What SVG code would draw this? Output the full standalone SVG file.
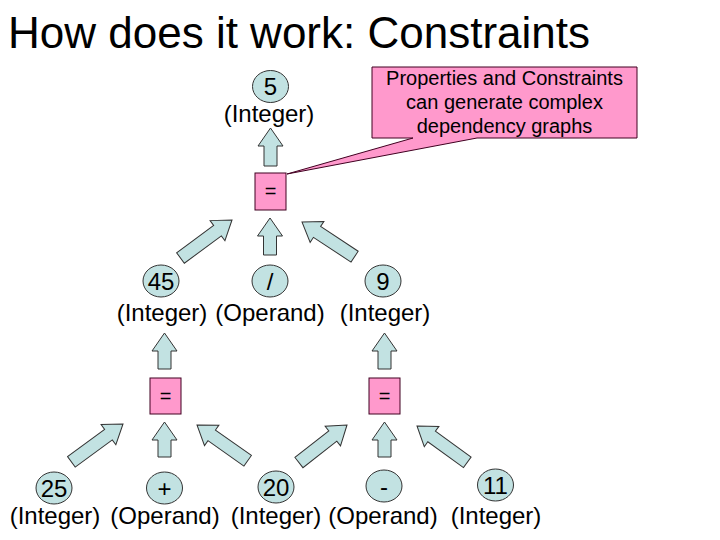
<svg xmlns="http://www.w3.org/2000/svg" width="720" height="540" viewBox="0 0 720 540">
<style>
text{font-family:"Liberation Sans",Arial,sans-serif;fill:#000}
.t{font-size:44px}
.l{font-size:24px;text-anchor:middle}
.c{font-size:20px;text-anchor:middle}
.circ{fill:#C2E2E2;stroke:#333;stroke-width:1}
.box{fill:#FF99CC;stroke:#400020;stroke-width:1}
.arr{fill:#C2E2E2;stroke:#333;stroke-width:1}
</style>
<rect width="720" height="540" fill="#fff"/>
<text class="t" x="8" y="48">How does it work: Constraints</text>

<g id="connectors">
<!-- up arrows: tip at origin pointing up -->
<polygon class="arr" transform="translate(270.5,128)" points="0,0 12.5,18 6.5,18 6.5,38 -6.5,38 -6.5,18 -12.5,18"/>
<polygon class="arr" transform="translate(270,218)" points="0,0 12.5,18 6.5,18 6.5,37 -6.5,37 -6.5,18 -12.5,18"/>
<polygon class="arr" transform="translate(232,220) rotate(53.6)" points="0,0 12.5,18 6.5,18 6.5,64 -6.5,64 -6.5,18 -12.5,18"/>
<polygon class="arr" transform="translate(302,222) rotate(-56.6)" points="0,0 12.5,18 6.5,18 6.5,63 -6.5,63 -6.5,18 -12.5,18"/>
<polygon class="arr" transform="translate(164.5,333)" points="0,0 12.5,18 6.5,18 6.5,36 -6.5,36 -6.5,18 -12.5,18"/>
<polygon class="arr" transform="translate(384.5,333)" points="0,0 12.5,18 6.5,18 6.5,36 -6.5,36 -6.5,18 -12.5,18"/>
<polygon class="arr" transform="translate(164.5,422)" points="0,0 12.5,18 6.5,18 6.5,35 -6.5,35 -6.5,18 -12.5,18"/>
<polygon class="arr" transform="translate(384.5,422)" points="0,0 12.5,18 6.5,18 6.5,35 -6.5,35 -6.5,18 -12.5,18"/>
<polygon class="arr" transform="translate(123,424) rotate(53.8)" points="0,0 12.5,18 6.5,18 6.5,64 -6.5,64 -6.5,18 -12.5,18"/>
<polygon class="arr" transform="translate(197,425) rotate(-54.8)" points="0,0 12.5,18 6.5,18 6.5,62 -6.5,62 -6.5,18 -12.5,18"/>
<polygon class="arr" transform="translate(347,425) rotate(52)" points="0,0 12.5,18 6.5,18 6.5,61 -6.5,61 -6.5,18 -12.5,18"/>
<polygon class="arr" transform="translate(417,426) rotate(-54.2)" points="0,0 12.5,18 6.5,18 6.5,62 -6.5,62 -6.5,18 -12.5,18"/>
</g>

<g id="callout">
<path class="box" d="M372,67 H637 V138 H477 L287,174 L413,138 H372 Z"/>
<text class="c" x="504.5" y="85">Properties and Constraints</text>
<text class="c" x="504.5" y="109">can generate complex</text>
<text class="c" x="504.5" y="133">dependency graphs</text>
</g>

<g id="n5">
<ellipse class="circ" cx="270.5" cy="86.5" rx="18" ry="16"/>
<text class="l" x="270.5" y="95">5</text>
<text class="l" x="269" y="122">(Integer)</text>
</g>
<g id="eq1">
<rect class="box" x="255" y="173" width="31" height="37"/>
<text class="c" x="270.5" y="198">=</text>
</g>

<g id="n45">
<ellipse class="circ" cx="161" cy="281" rx="18" ry="16"/>
<text class="l" x="161" y="290">45</text>
<text class="l" x="162" y="321">(Integer)</text>
</g>
<g id="nDiv">
<ellipse class="circ" cx="270" cy="281" rx="18" ry="16"/>
<text class="l" x="270" y="290">/</text>
<text class="l" x="270" y="321">(Operand)</text>
</g>
<g id="n9">
<ellipse class="circ" cx="383" cy="281" rx="18" ry="16"/>
<text class="l" x="383" y="290">9</text>
<text class="l" x="385" y="321">(Integer)</text>
</g>

<g id="eq2">
<rect class="box" x="150" y="378" width="31" height="36"/>
<text class="c" x="165.5" y="403">=</text>
</g>
<g id="eq3">
<rect class="box" x="369" y="378" width="31" height="36"/>
<text class="c" x="384.5" y="403">=</text>
</g>

<g id="n25">
<ellipse class="circ" cx="54" cy="488" rx="18" ry="16"/>
<text class="l" x="54" y="497">25</text>
<text class="l" x="55" y="524">(Integer)</text>
</g>
<g id="nPlus">
<ellipse class="circ" cx="164.5" cy="488" rx="18" ry="16"/>
<text class="l" x="164.5" y="497">+</text>
<text class="l" x="165" y="524">(Operand)</text>
</g>
<g id="n20">
<ellipse class="circ" cx="276" cy="487" rx="18" ry="16"/>
<text class="l" x="276" y="496">20</text>
<text class="l" x="276" y="524">(Integer)</text>
</g>
<g id="nMinus">
<ellipse class="circ" cx="384" cy="486" rx="18" ry="16"/>
<text class="l" x="384" y="495">-</text>
<text class="l" x="383" y="524">(Operand)</text>
</g>
<g id="n11">
<ellipse class="circ" cx="495.5" cy="485" rx="18" ry="16"/>
<text class="l" x="495.5" y="494">11</text>
<text class="l" x="496" y="524">(Integer)</text>
</g>
</svg>
